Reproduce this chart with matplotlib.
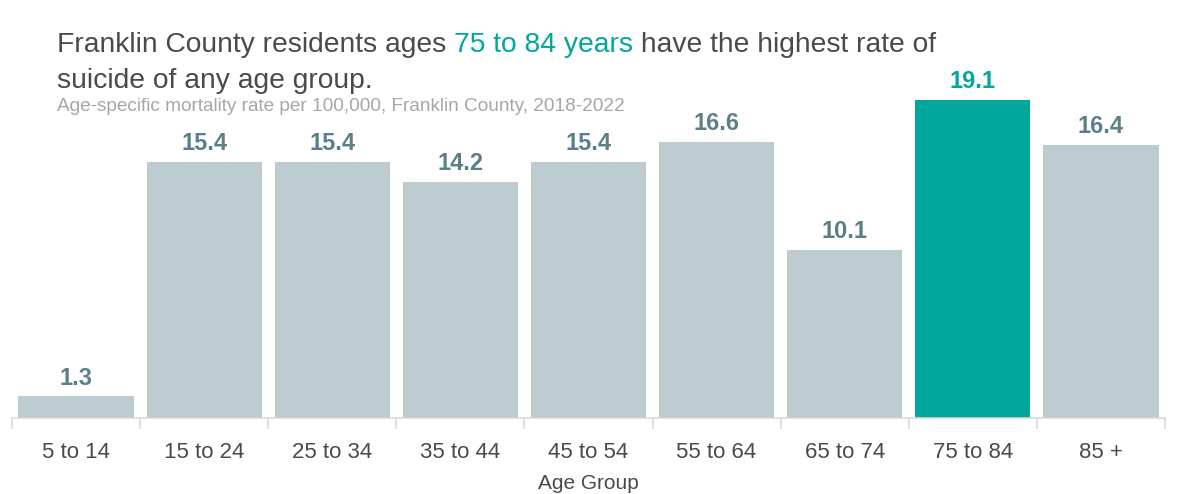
import matplotlib.pyplot as plt
from matplotlib import font_manager

groups = ["5 to 14", "15 to 24", "25 to 34", "35 to 44", "45 to 54",
          "55 to 64", "65 to 74", "75 to 84", "85 +"]
rates = [1.3, 15.4, 15.4, 14.2, 15.4, 16.6, 10.1, 19.1, 16.4]
highlight = "75 to 84"

names = {f.name for f in font_manager.fontManager.ttflist}
fam = "Liberation Sans Narrow" if "Liberation Sans Narrow" in names else "Liberation Sans"
plt.rcParams["font.family"] = [fam, "DejaVu Sans"]

GREY = "#bccbd0"
TEAL = "#00a89c"
LABEL = "#5b7f88"
DARK = "#4a4a4a"

fig = plt.figure(figsize=(11.81, 4.94), dpi=100)
ax = fig.add_axes([12 / 1181, 76 / 494, 1153 / 1181, 0.7247])

x = list(range(len(groups)))
colors = [TEAL if g == highlight else GREY for g in groups]
ax.bar(x, rates, width=0.9, color=colors)
for i, v in enumerate(rates):
    c = TEAL if groups[i] == highlight else LABEL
    ax.text(i, v + 0.4, f"{v}", ha="center", va="bottom",
            fontsize=17, fontweight="bold", color=c)

ax.set_xlim(-0.5, len(groups) - 0.5)
ax.set_ylim(0, 21.5)
ax.set_yticks([])
for s in ["top", "right", "left"]:
    ax.spines[s].set_visible(False)
ax.spines["bottom"].set_color("#d9d9d9")
ax.spines["bottom"].set_linewidth(1.2)

# ticks sit on the group boundaries, labels in the middle
ax.set_xticks([i - 0.5 for i in range(len(groups) + 1)])
ax.set_xticklabels([])
ax.set_xticks(x, minor=True)
ax.set_xticklabels(groups, minor=True, fontsize=16, color=DARK)
ax.tick_params(axis="x", which="major", length=8, color="#d9d9d9", width=1.2)
ax.tick_params(axis="x", which="minor", length=0, pad=17)
ax.set_xlabel("Age Group", fontsize=15, color=DARK, labelpad=8)

# headline with the highlighted age range in teal
ts = 20.3
t1 = fig.text(57 / 1181, 1 - 52 / 494, "Franklin County residents ages ",
              fontsize=ts, color=DARK)
fig.canvas.draw()
r = fig.canvas.get_renderer()
bb = t1.get_window_extent(r)
t2 = fig.text(bb.x1 / 1181, 1 - 52 / 494, "75 to 84 years", fontsize=ts, color=TEAL)
bb = t2.get_window_extent(r)
fig.text(bb.x1 / 1181, 1 - 52 / 494, " have the highest rate of",
         fontsize=ts, color=DARK)
fig.text(57 / 1181, 1 - 88 / 494, "suicide of any age group.", fontsize=ts, color=DARK)
fig.text(57 / 1181, 1 - 111 / 494,
         "Age-specific mortality rate per 100,000, Franklin County, 2018-2022",
         fontsize=13.7, color="#a6a6a6")

fig.savefig("out.png", dpi=100, facecolor="white")
